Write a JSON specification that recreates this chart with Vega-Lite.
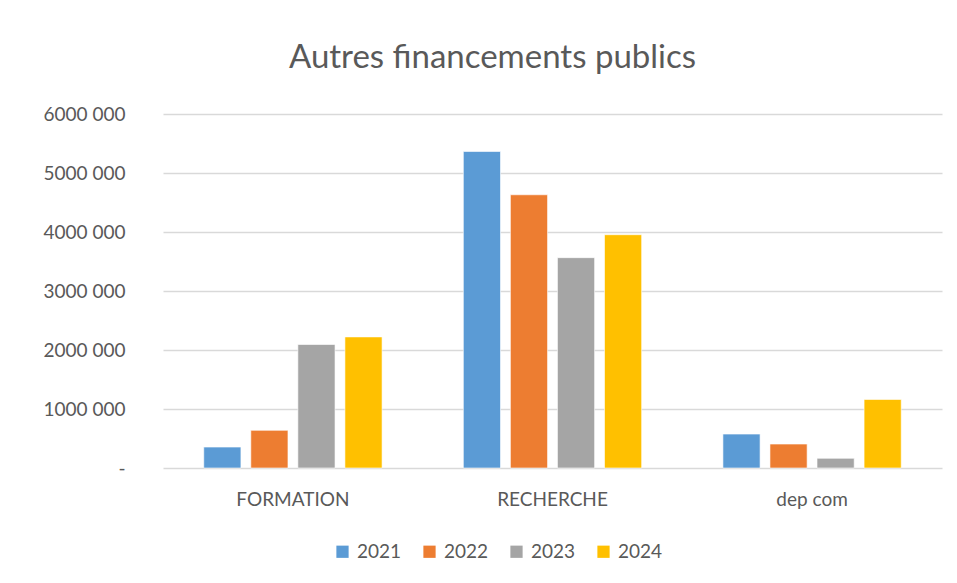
{
  "$schema": "https://vega.github.io/schema/vega-lite/v6.json",
  "width": 779,
  "height": 354,
  "autosize": {"type": "none"},
  "padding": {"left": 163, "top": 114, "right": 15, "bottom": 115},
  "background": "white",
  "title": {
    "text": "Autres financements publics",
    "font": "Lato",
    "fontSize": 33,
    "fontWeight": "normal",
    "color": "#595959",
    "anchor": "middle",
    "dx": -60,
    "offset": 30
  },
  "data": {
    "values": [
      {"cat": "FORMATION", "year": "2021", "value": 355000},
      {"cat": "FORMATION", "year": "2022", "value": 638000},
      {"cat": "FORMATION", "year": "2023", "value": 2093000},
      {"cat": "FORMATION", "year": "2024", "value": 2222000},
      {"cat": "RECHERCHE", "year": "2021", "value": 5364000},
      {"cat": "RECHERCHE", "year": "2022", "value": 4631000},
      {"cat": "RECHERCHE", "year": "2023", "value": 3565000},
      {"cat": "RECHERCHE", "year": "2024", "value": 3954000},
      {"cat": "dep com", "year": "2021", "value": 575000},
      {"cat": "dep com", "year": "2022", "value": 406000},
      {"cat": "dep com", "year": "2023", "value": 164000},
      {"cat": "dep com", "year": "2024", "value": 1162000}
    ]
  },
  "mark": {"type": "bar", "stroke": "white", "strokeWidth": 1, "strokeOpacity": 0.6},
  "encoding": {
    "x": {
      "field": "cat",
      "type": "nominal",
      "sort": ["FORMATION", "RECHERCHE", "dep com"],
      "scale": {"paddingInner": 0.313, "paddingOuter": 0.157},
      "axis": {
        "title": null,
        "labelAngle": 0,
        "labelFont": "Lato",
        "labelFontSize": 19,
        "labelColor": "#595959",
        "labelPadding": 22,
        "ticks": false,
        "domain": false,
        "grid": false
      }
    },
    "xOffset": {
      "field": "year",
      "type": "nominal",
      "scale": {"paddingInner": 0.21, "paddingOuter": 0}
    },
    "y": {
      "field": "value",
      "type": "quantitative",
      "scale": {"domain": [0, 6000000], "nice": false},
      "axis": {
        "title": null,
        "values": [0, 1000000, 2000000, 3000000, 4000000, 5000000, 6000000],
        "labelExpr": "datum.value == 0 ? '-\u00a0\u00a0\u00a0\u00a0' : format(datum.value / 1000000, 'd') + '000\u00a0000'",
        "labelFont": "Lato",
        "labelFontSize": 19,
        "labelColor": "#595959",
        "labelPadding": 38,
        "ticks": false,
        "domain": false,
        "grid": true,
        "gridColor": "#d9d9d9",
        "gridWidth": 1.5
      }
    },
    "color": {
      "field": "year",
      "type": "nominal",
      "scale": {
        "domain": ["2021", "2022", "2023", "2024"],
        "range": ["#5B9BD5", "#ED7D31", "#A5A5A5", "#FFC000"]
      },
      "legend": {
        "title": null,
        "orient": "none",
        "direction": "horizontal",
        "legendX": 170,
        "legendY": 428,
        "symbolType": "square",
        "symbolSize": 150,
        "symbolStrokeWidth": 0,
        "labelFont": "Lato",
        "labelFontSize": 19,
        "labelColor": "#595959",
        "columnPadding": 18,
        "labelOffset": 5
      }
    }
  },
  "config": {
    "view": {"stroke": null}
  }
}
